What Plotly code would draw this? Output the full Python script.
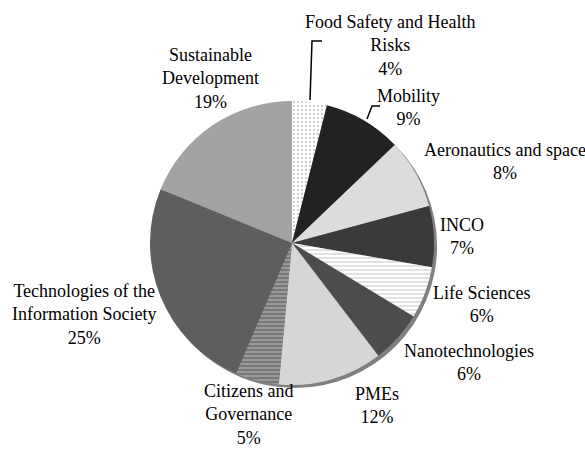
import plotly.graph_objects as go

W, H = 585, 449

categories = [
    "Food Safety and Health Risks", "Mobility", "Aeronautics and space", "INCO",
    "Life Sciences", "Nanotechnologies", "PMEs", "Citizens and Governance",
    "Technologies of the Information Society", "Sustainable Development",
]
shares = [4, 9, 8, 7, 6, 6, 12, 5, 25, 19]
label_text = [
    "Food Safety and Health<br>Risks", "Mobility", "Aeronautics and space", "INCO",
    "Life Sciences", "Nanotechnologies", "PMEs", "Citizens and<br>Governance",
    "Technologies of the<br>Information Society", "Sustainable<br>Development",
]

# fill styles per slice: (background, pattern shape, pattern colour)
fills = [
    ("#ffffff", ".", "#9a9a9a"),
    ("#222222", "", "#222222"),
    ("#dcdcdc", "", "#dcdcdc"),
    ("#3a3a3a", "", "#3a3a3a"),
    ("#ffffff", "-", "#8a8a8a"),
    ("#4c4c4c", "", "#4c4c4c"),
    ("#d6d6d6", "", "#d6d6d6"),
    ("#9a9a9a", "-", "#111111"),
    ("#5e5e5e", "", "#5e5e5e"),
    ("#a3a3a3", "", "#a3a3a3"),
]

# label anchor points in pixels (centre of text block)
label_pos = [
    (390, 45), (408, 107), (505, 161), (462, 237), (481, 304),
    (469, 362), (377, 405), (248, 414), (84, 314), (210, 79),
]

cx, cy, r = 292, 243, 142


def dom(x0, y0, rad):
    return dict(x=[(x0 - rad) / W, (x0 + rad) / W],
                y=[1 - (y0 + rad) / H, 1 - (y0 - rad) / H])


fig = go.Figure()

# drop shadow behind the pie
fig.add_trace(go.Pie(
    values=[1], labels=["shadow"], sort=False, textinfo="none", hoverinfo="skip",
    marker=dict(colors=["#808080"], line=dict(width=0)),
    domain=dom(cx + 3, cy + 3, r), showlegend=False,
))

fig.add_trace(go.Pie(
    values=shares, labels=categories, sort=False, direction="clockwise",
    rotation=0, textinfo="none",
    marker=dict(
        colors=[f[0] for f in fills],
        line=dict(width=0),
        pattern=dict(
            shape=[f[1] for f in fills],
            fgcolor=[f[2] for f in fills],
            bgcolor=[f[0] for f in fills],
            size=4, solidity=0.25, fillmode="overlay",
        ),
    ),
    domain=dom(cx, cy, r), showlegend=False,
))

annotations = []
for txt, v, (px, py) in zip(label_text, shares, label_pos):
    annotations.append(dict(
        x=px / W, y=1 - py / H, xref="paper", yref="paper",
        text=f"{txt}<br>{v}%", showarrow=False, xanchor="center", yanchor="middle",
        font=dict(family="Liberation Serif", size=18, color="#000000"),
        align="center",
    ))

# leader lines for the two top labels
leaders = [
    [(310, 100), (312, 41), (322, 41)],
    [(367, 119), (372, 106), (380, 106)],
]
shapes = []
for pts in leaders:
    path = "M " + " L ".join(f"{x / W},{1 - y / H}" for x, y in pts)
    shapes.append(dict(type="path", path=path, xref="paper", yref="paper",
                       line=dict(color="#000000", width=1.5)))

fig.update_layout(
    width=W, height=H, margin=dict(l=0, r=0, t=0, b=0),
    paper_bgcolor="#ffffff", plot_bgcolor="#ffffff",
    annotations=annotations, shapes=shapes,
)

fig.write_html("out.html")
